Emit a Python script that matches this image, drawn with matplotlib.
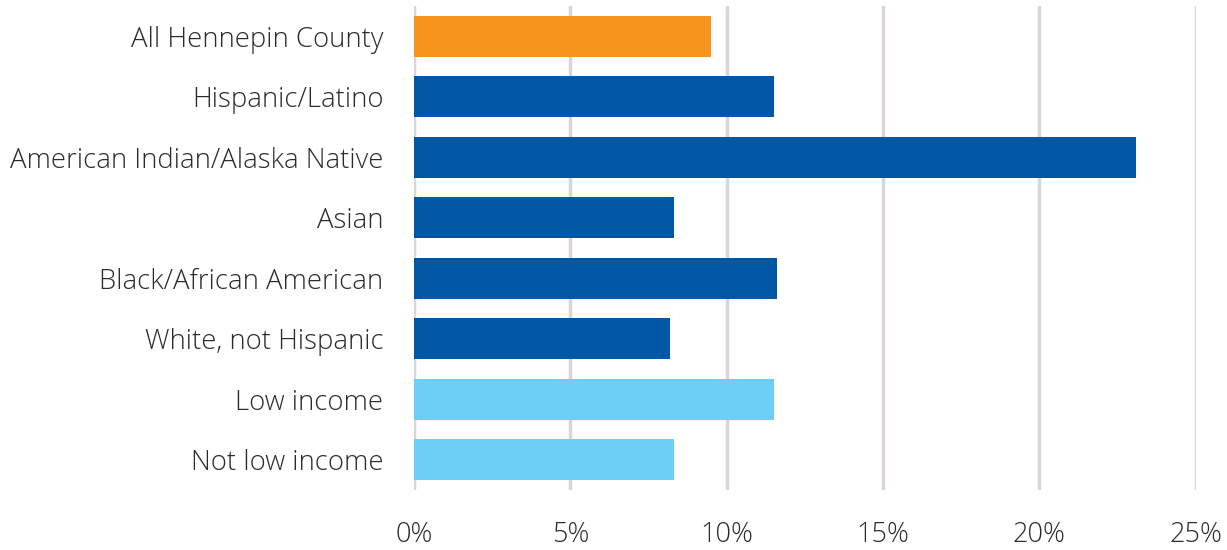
import matplotlib
matplotlib.use("Agg")
import matplotlib.pyplot as plt
from matplotlib.ticker import FuncFormatter

categories = [
    "All Hennepin County",
    "Hispanic/Latino",
    "American Indian/Alaska Native",
    "Asian",
    "Black/African American",
    "White, not Hispanic",
    "Low income",
    "Not low income",
]
values = [9.5, 11.5, 23.1, 8.3, 11.6, 8.2, 11.5, 8.3]
groups = ["total", "race", "race", "race", "race", "race", "income", "income"]
group_colors = {"total": "#F7941E", "race": "#0057A3", "income": "#6DCFF6"}
x_ticks = [0, 5, 10, 15, 20, 25]

plt.rcParams["font.family"] = ["Open Sans", "DejaVu Sans"]

fig = plt.figure(figsize=(12.27, 5.5), dpi=100)
ax = fig.add_axes([414 / 1227, 1 - 490 / 550, (1195.7 - 414) / 1227, 484 / 550])

ypos = list(range(len(categories)))
ax.barh(ypos, values, height=0.67,
        color=[group_colors[g] for g in groups], zorder=3)

ax.set_xlim(0, 25)
ax.set_ylim(len(categories) - 0.5, -0.5)
ax.set_yticks(ypos)
ax.set_yticklabels(categories)
ax.set_xticks(x_ticks)
ax.xaxis.set_major_formatter(FuncFormatter(lambda v, p: f"{v:.0f}%"))

for lbl in ax.get_yticklabels():
    lbl.set_fontsize(19.8)
for lbl in ax.get_xticklabels():
    lbl.set_fontsize(19.5)
for lbl in ax.get_yticklabels() + ax.get_xticklabels():
    lbl.set_fontweight("light")
    lbl.set_color("#2b2b2b")

ax.grid(axis="x", color="#DDD5D3", linewidth=2.5, zorder=0)
ax.tick_params(axis="y", length=0, pad=22)
ax.tick_params(axis="x", length=0, pad=22)
for s in ax.spines.values():
    s.set_visible(False)

fig.savefig("out.png", dpi=100, facecolor="white")
